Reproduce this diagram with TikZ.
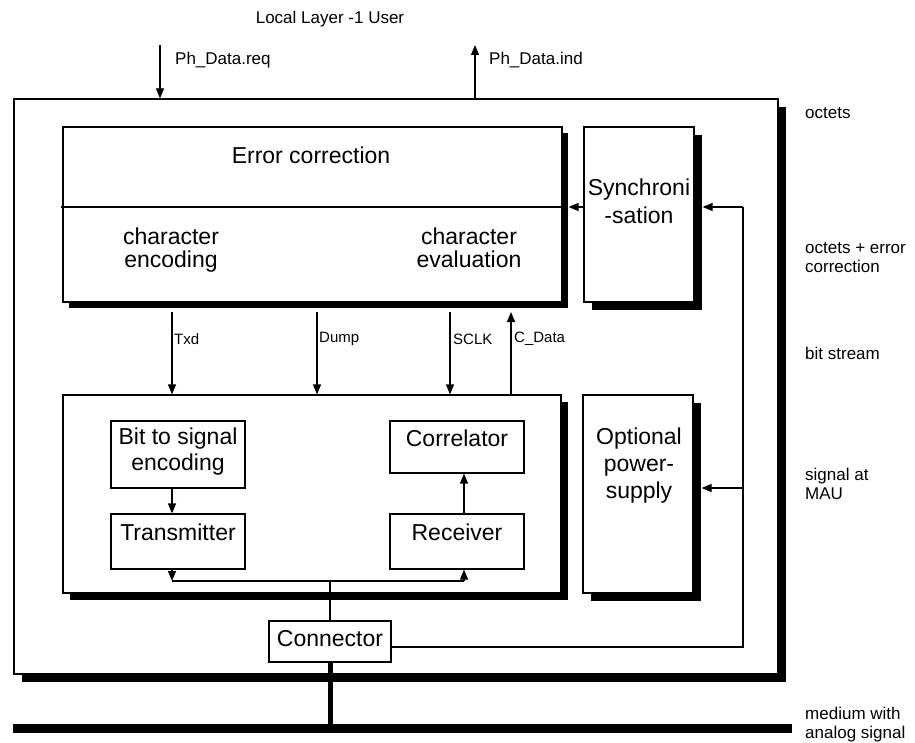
\documentclass[tikz,border=0pt]{standalone}
\usepackage{fontspec}
\setmainfont{Liberation Sans}
\usetikzlibrary{arrows.meta,shadows}
\begin{document}
\begin{tikzpicture}[x=1pt,y=-1pt,
 box/.style={draw,line width=1.2pt,fill=white,rectangle,inner sep=0pt},
 shad/.style={drop shadow={shadow xshift=#1,shadow yshift=-#1,opacity=1,fill=black}},
 big/.style={font=\fontsize{23}{26}\selectfont,align=center,inner sep=0pt},
 small/.style={font=\fontsize{15}{18}\selectfont,inner sep=0pt,anchor=west},
 outl/.style={font=\fontsize{17}{19}\selectfont,inner sep=0pt,align=left,anchor=west},
 arr/.style={line width=1.2pt,-{Triangle[length=10pt,width=8pt]}},
 ln/.style={line width=1.2pt}]
\useasboundingbox (0,0) rectangle (915,743);

% boxes
\node[box,shad=8pt,minimum width=764pt,minimum height=575pt] (outer) at (396,386.5) {};
\node[box,shad=6pt,minimum width=499pt,minimum height=175pt] (ec) at (312.5,214.5) {};
\node[box,shad=8pt,minimum width=110pt,minimum height=175pt] (sync) at (639,214.5) {};
\node[box,shad=7pt,minimum width=498pt,minimum height=198pt] (lower) at (312,494) {};
\node[box,shad=8pt,minimum width=110pt,minimum height=198pt] (power) at (638,494) {};
\node[box,minimum width=134pt,minimum height=67pt] (bit) at (178,454.5) {};
\node[box,minimum width=134pt,minimum height=55pt] (trans) at (178,541.5) {};
\node[box,minimum width=134pt,minimum height=52pt] (corr) at (457,447) {};
\node[box,minimum width=134pt,minimum height=55pt] (recv) at (457,541.5) {};
\node[box,minimum width=122pt,minimum height=41pt] (conn) at (330,641.5) {};

% texts in boxes
\node[big] (tec) at (311,155) {Error correction};
\node[big,font=\fontsize{23}{23}\selectfont,anchor=north] (tenc) at (171,228) {character\\encoding};
\node[big,font=\fontsize{23}{23}\selectfont,anchor=north] (teva) at (469,228) {character\\evaluation};
\node[big,font=\fontsize{23}{28}\selectfont] (tsync) at (639,201) {Synchroni\\-sation};
\node[big] (tbit) at (178,452) {Bit to signal\\encoding};
\node[big] (ttr) at (178,532) {Transmitter};
\node[big] (tcor) at (457,438) {Correlator};
\node[big] (trec) at (457,532) {Receiver};
\node[big] (tcon) at (330,639) {Connector};
\node[big,font=\fontsize{23}{27}\selectfont] (tpow) at (639,466) {Optional\\power-\\supply};

% divider in error correction box
\coordinate (div) at (61,207);
\draw[ln] (div) -- (div -| ec.east);

% coordinates for vertical connectors
\coordinate (tx) at (172,312);
\coordinate (dx) at (317,312);
\coordinate (sx) at (450,312);
\coordinate (cx) at (511,312);
\coordinate (rx) at (464,0);
\coordinate (bus) at (330,581);
\coordinate (rt) at (743,207);
\coordinate (pa) at (743,488);
\coordinate (syncs) at ([xshift=8pt]sync.east);
\coordinate (pows) at ([xshift=8pt]power.east);
\coordinate (ecs) at ([xshift=6pt]ec.east);

% between the two main blocks
\draw[arr] (tx) -- (tx |- lower.north);
\draw[arr] (dx) -- (dx |- lower.north);
\draw[arr] (sx) -- (sx |- lower.north);
\draw[arr] (cx |- lower.north) -- (cx);
\node[small] (ltxd) at (174,339) {Txd};
\node[small] (ldump) at (319,339) {Dump};
\node[small] (lsclk) at (453,339) {SCLK};
\node[small] (lcd) at (514,339) {C\_Data};

% inside lower block
\draw[arr] (bit.south -| tx) -- (trans.north -| tx);
\draw[arr] (recv.north -| rx) -- (corr.south -| rx);
\draw[ln] (tx |- bus) -- (rx |- bus);
\draw[arr] (trans.south -| tx) -- (tx |- bus);
\draw[arr] (rx |- bus) -- (recv.south -| rx);
\draw[ln] (bus) -- (conn.north);

% synchronisation feeds
\draw[arr] (sync.west |- div) -- (ecs |- div);
\draw[ln] (conn.east |- 0,647) -- (rt |- 0,647) -- (rt);
\draw[arr] (rt) -- (syncs |- rt);
\draw[arr] (pa) -- (pows |- pa);

% top interface
\coordinate (req) at (160,45);
\coordinate (ind) at (475,45);
\draw[arr] (req) -- (req |- outer.north);
\draw[arr] (ind |- outer.north) -- (ind);
\node[outl] (lreq) at (175,60) {Ph\_Data.req};
\node[outl] (lind) at (489,60) {Ph\_Data.ind};
\node[outl,anchor=center] (user) at (330,19) {Local Layer -1 User};

% medium
\coordinate (med) at (330,728.5);
\draw[line width=5pt] (conn.south) -- (med);
\draw[line width=9pt] (13,728.5) coordinate (ml) -- (792,728.5) coordinate (mr);

% right labels
\node[outl] (r1) at (805,113) {octets};
\node[outl] (r2) at (805,257.5) {octets + error\\correction};
\node[outl] (r3) at (805,353) {bit stream};
\node[outl] (r4) at (805,484) {signal at\\MAU};
\node[outl] (r5) at (805,725) {medium with\\analog signal};
\end{tikzpicture}
\end{document}
